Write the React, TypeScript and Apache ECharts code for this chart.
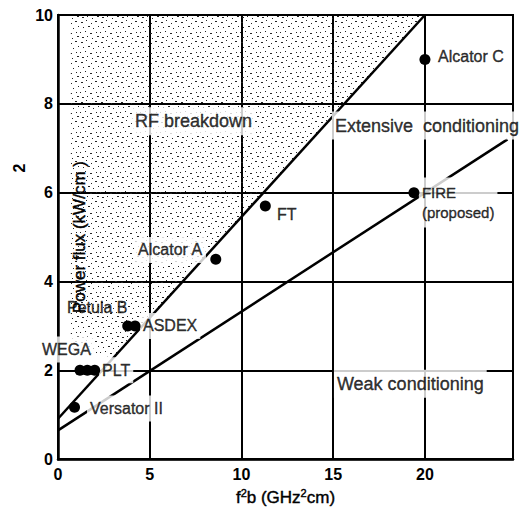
import React, { useEffect, useRef } from "react";
import * as echarts from "echarts";

const FONT = '"Liberation Sans", Arial, Helvetica, sans-serif';

// axis ticks
const xTicks = [0, 5, 10, 15, 20];
const yTicks = [0, 2, 4, 6, 8, 10];

// machine data points (f^2 b, power flux)
const deviceNames = ["Alcator C", "FIRE", "FT", "Alcator A", "ASDEX", "ASDEX", "PLT", "PLT", "PLT", "Versator II"];
const deviceX = [20, 19.4, 11.3, 8.6, 3.8, 4.2, 1.2, 1.6, 2.0, 0.9];
const deviceY = [9, 6, 5.7, 4.5, 3.0, 3.0, 2.0, 2.0, 2.0, 1.17];

// boundary lines
const breakdownLineX = [0, 20];
const breakdownLineY = [0.91, 10];
const weakLineX = [0, 24.5];
const weakLineY = [0.65, 7.2];

// stippled RF-breakdown region (data units)
const shadeX = [0.7, 3.1, 20, 0.7];
const shadeY = [2.4, 2.3, 10, 10];

// text annotations anchored in data units
const noteTexts = [
  "RF breakdown",
  "Extensive  conditioning",
  "Weak conditioning",
  "Alcator C",
  "FIRE\n(proposed)",
  "FT",
  "Alcator A",
  "Petula B",
  "ASDEX",
  "WEGA",
  "PLT",
  "Versator II",
];
const noteX = [4.03, 14.93, 15.04, 20.55, 19.67, 11.77, 4.2, 0.49, 4.47, -1.04, 2.24, 1.58];
const noteY = [7.61, 7.51, 1.7, 9.06, 5.78, 5.52, 4.71, 3.41, 3.0, 2.47, 2.0, 1.14];

const regionNotes = ["RF breakdown", "Extensive  conditioning", "Weak conditioning"];
const noBackground = ["Petula B"];

function makeStipple() {
  const c = document.createElement("canvas");
  c.width = 20;
  c.height = 20;
  const ctx = c.getContext("2d")!;
  ctx.fillStyle = "#222";
  const dots: number[][] = [
    [1, 2, 2], [6, 0, 1], [11, 3, 1], [15, 1, 2], [3, 7, 1], [8, 6, 2], [13, 8, 1], [18, 6, 1],
    [0, 12, 1], [5, 11, 1], [10, 13, 2], [16, 12, 1], [2, 17, 2], [7, 16, 1], [12, 18, 1], [17, 16, 2],
  ];
  dots.forEach(([x, y, w]) => ctx.fillRect(x, y, w, 1));
  return { image: c, repeat: "repeat", imageWidth: 20, imageHeight: 20 };
}

export default function App() {
  const ref = useRef<HTMLDivElement>(null);
  useEffect(() => {
    const chart = echarts.init(ref.current!, null, { renderer: "svg" });
    const stipple = makeStipple();
    const ink = { textBorderColor: "#000", textBorderWidth: 0.4 };
    const option: any = {
      animation: false,
      backgroundColor: "#fff",
      textStyle: { fontFamily: FONT, color: "#000" },
      grid: {
        left: 58,
        top: 15,
        width: 455,
        height: 446,
        show: true,
        borderColor: "#000",
        borderWidth: 2,
        backgroundColor: "transparent",
      },
      xAxis: {
        type: "value",
        min: 0,
        max: 24.8,
        interval: 5,
        axisLine: { show: true, lineStyle: { color: "#000", width: 2.5 } },
        axisTick: { show: false },
        splitLine: { show: true, lineStyle: { color: "#000", width: 2 } },
        axisLabel: {
          color: "#000",
          fontSize: 16,
          fontWeight: "bold",
          fontFamily: FONT,
          margin: 7,
          showMaxLabel: false,
          formatter: (v: number) => (xTicks.includes(v) ? String(v) : ""),
        },
        name: "{n|f}{s|2}{n|b (GHz}{s|2}{n|cm)}",
        nameLocation: "middle",
        nameGap: 22,
        nameTextStyle: {
          color: "#000",
          fontSize: 17,
          fontFamily: FONT,
          rich: {
            n: { fontSize: 17, color: "#000", fontFamily: FONT, lineHeight: 20, ...ink },
            s: { fontSize: 11, color: "#000", fontFamily: FONT, lineHeight: 12, verticalAlign: "top", ...ink },
          },
        },
      },
      yAxis: {
        type: "value",
        min: 0,
        max: 10,
        interval: 2,
        axisLine: { show: true, lineStyle: { color: "#000", width: 2.5 } },
        axisTick: { show: false },
        splitLine: { show: true, lineStyle: { color: "#000", width: 2 } },
        axisLabel: {
          color: "#000",
          fontSize: 16,
          fontWeight: "bold",
          fontFamily: FONT,
          margin: 5,
          formatter: (v: number) => (yTicks.includes(v) ? String(v) : ""),
        },
        name: "Power flux (kW/cm )",
        nameLocation: "middle",
        nameRotate: 90,
        nameGap: -30,
        nameTextStyle: { color: "#000", fontSize: 17, fontFamily: FONT, ...ink },
      },
      graphic: [
        {
          type: "text",
          x: 19,
          y: 168,
          rotation: Math.PI / 2,
          style: {
            text: "2",
            fontSize: 16,
            fontWeight: "bold",
            fontFamily: FONT,
            fill: "#000",
            align: "center",
            verticalAlign: "middle",
          },
        },
      ],
      series: [
        {
          type: "custom",
          silent: true,
          z: 1,
          data: [0],
          renderItem: (_params: any, api: any) => ({
            type: "polygon",
            shape: { points: shadeX.map((x, i) => api.coord([x, shadeY[i]])) },
            style: { fill: stipple, stroke: null },
          }),
        },
        {
          type: "line",
          z: 3,
          symbol: "none",
          silent: true,
          data: breakdownLineX.map((x, i) => [x, breakdownLineY[i]]),
          lineStyle: { color: "#000", width: 2.5 },
        },
        {
          type: "line",
          z: 3,
          symbol: "none",
          silent: true,
          data: weakLineX.map((x, i) => [x, weakLineY[i]]),
          lineStyle: { color: "#000", width: 2.5 },
        },
        {
          type: "scatter",
          z: 10,
          clip: false,
          symbolSize: 0,
          silent: true,
          data: noteX.map((x, i) => {
            const t = noteTexts[i];
            const big = regionNotes.includes(t);
            return {
              name: t,
              value: [x, noteY[i]],
              label: {
                show: true,
                position: "right",
                distance: 0,
                formatter: t,
                color: "#000",
                fontFamily: FONT,
                fontSize: big ? 18 : t.startsWith("FIRE") ? 15 : 16,
                lineHeight: t.startsWith("FIRE") ? 20 : undefined,
                align: "left",
                ...ink,
                backgroundColor: noBackground.includes(t) ? "transparent" : "#fff",
                padding: noBackground.includes(t) ? 0 : [5, 3],
              },
            };
          }),
        },
        {
          type: "scatter",
          z: 12,
          silent: true,
          symbolSize: 11,
          itemStyle: { color: "#000", opacity: 1 },
          data: deviceX.map((x, i) => ({ name: deviceNames[i], value: [x, deviceY[i]] })),
        },
      ],
    };
    chart.setOption(option);
    return () => chart.dispose();
  }, []);
  return (
    <div
      ref={ref}
      style={{ position: "absolute", left: 0, top: 0, width: 523, height: 511, background: "#fff" }}
    />
  );
}
